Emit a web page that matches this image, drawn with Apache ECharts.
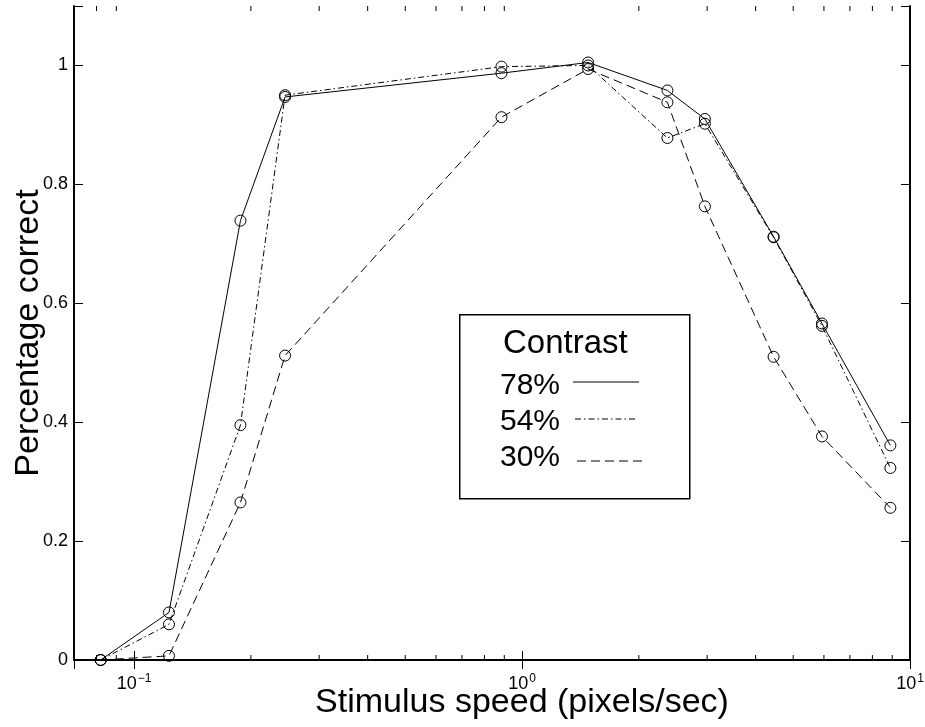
<!DOCTYPE html>
<html>
<head>
<meta charset="utf-8">
<script src="https://cdn.jsdelivr.net/npm/echarts@6/dist/echarts.min.js"></script>
<style>
html,body{margin:0;padding:0;background:#fff;}
#chart{width:925px;height:727px;}
</style>
</head>
<body>
<div id="chart"></div>
<script>
// ---- data ----
const speeds = [0.082, 0.123, 0.188, 0.245, 0.885, 1.48, 2.37, 2.96, 4.45, 5.93, 8.9];
const contrast78 = [0, 0.080, 0.739, 0.947, 0.987, 1.005, 0.958, 0.910, 0.712, 0.566, 0.361];
const contrast54 = [0, 0.060, 0.395, 0.950, 0.998, 1.000, 0.878, 0.902, 0.711, 0.562, 0.323];
const contrast30 = [0, 0.007, 0.265, 0.512, 0.913, 0.994, 0.938, 0.763, 0.510, 0.376, 0.256];
const seriesNames = ['78%', '54%', '30%'];
const minorTickValues = [0.08, 0.09, 0.2, 0.3, 0.4, 0.5, 0.6, 0.7, 0.8, 0.9, 2, 3, 4, 5, 6, 7, 8, 9];
const yTicks = [0, 0.2, 0.4, 0.6, 0.8, 1];
const xTitle = 'Stimulus speed (pixels/sec)';
const yTitle = 'Percentage correct';
const legendTitle = 'Contrast';

// ---- styles ----
const FONT = '"Liberation Sans", Arial, Helvetica, sans-serif';
const dashes = [null, [6, 3, 1.5, 3], [9, 5]];
const allSeries = [contrast78, contrast54, contrast30];

function pairs(vals) { return speeds.map((s, i) => [s, vals[i]]); }

function supLabel(v) {
  const e = Math.log10(v);
  if (Math.abs(e - Math.round(e)) > 1e-6) return '';
  const n = Math.round(e);
  return '{b|10}{s|' + (n < 0 ? '\u2212' + (-n) : n) + '}';
}

const chart = echarts.init(document.getElementById('chart'), null, {renderer: 'canvas'});

const lineSeries = allSeries.map((vals, i) => ({
  name: seriesNames[i],
  type: 'line',
  data: pairs(vals),
  symbol: 'circle',
  symbolSize: 11,
  showSymbol: true,
  lineStyle: {color: '#000', width: 1, type: dashes[i] || 'solid'},
  itemStyle: {color: 'rgba(0,0,0,0)', borderColor: '#000', borderWidth: 1},
  emphasis: {disabled: true},
  z: 3
}));

const minorTickSeries = {
  type: 'custom',
  data: minorTickValues.map(v => [v, 0]),
  encode: {x: 0, y: 1},
  silent: true,
  clip: false,
  renderItem: function (params, api) {
    const x = api.coord([api.value(0), 0])[0];
    const cs = params.coordSys;
    const yb = cs.y + cs.height, yt = cs.y;
    return {
      type: 'group',
      children: [
        {type: 'line', shape: {x1: x, y1: yb, x2: x, y2: yb - 5}, style: {stroke: '#000', lineWidth: 1}},
        {type: 'line', shape: {x1: x, y1: yt, x2: x, y2: yt + 5}, style: {stroke: '#000', lineWidth: 1}}
      ]
    };
  },
  z: 2
};

const axisLineStyle = {color: '#000', width: 2};

const option = {
  animation: false,
  backgroundColor: '#fff',
  grid: {left: 74, right: 15, top: 6, bottom: 67, show: false, containLabel: false, outerBoundsMode: 'none'},
  xAxis: [{
    type: 'log', logBase: 10, min: 0.07, max: 10, position: 'bottom',
    axisLine: {show: true, lineStyle: axisLineStyle},
    axisTick: {show: true, inside: true, length: 9, lineStyle: {color: '#000', width: 1}},
    splitLine: {show: false},
    axisLabel: {
      show: true, margin: 13, showMinLabel: false,
      formatter: supLabel,
      rich: {
        b: {fontFamily: FONT, fontSize: 18, color: '#000', verticalAlign: 'bottom', lineHeight: 20},
        s: {fontFamily: FONT, fontSize: 12, color: '#000', verticalAlign: 'top', lineHeight: 20, padding: [0, 0, 11, 1]}
      }
    },
    name: xTitle, nameLocation: 'middle', nameGap: 26, nameMoveOverlap: false,
    nameTextStyle: {fontFamily: FONT, fontSize: 34, color: '#000', padding: [0, 0, 0, 60]}
  }, {
    type: 'log', logBase: 10, min: 0.07, max: 10, position: 'top',
    axisLine: {show: true, lineStyle: axisLineStyle},
    axisTick: {show: true, inside: true, length: 9, lineStyle: {color: '#000', width: 1}},
    axisLabel: {show: false}, splitLine: {show: false}
  }],
  yAxis: [{
    type: 'value', min: 0, max: 1.1, interval: 0.2, position: 'left',
    axisLine: {show: true, lineStyle: axisLineStyle},
    axisTick: {show: true, inside: true, length: 9, lineStyle: {color: '#000', width: 1}},
    splitLine: {show: false},
    axisLabel: {
      show: true, margin: 6, fontFamily: FONT, fontSize: 18, color: '#000',
      formatter: v => (yTicks.some(t => Math.abs(t - v) < 1e-9) ? String(+v.toFixed(1)) : '')
    },
    name: yTitle, nameLocation: 'middle', nameGap: 28, nameMoveOverlap: false,
    nameTextStyle: {fontFamily: FONT, fontSize: 34, color: '#000'}
  }, {
    type: 'value', min: 0, max: 1.1, interval: 0.2, position: 'right',
    axisLine: {show: true, lineStyle: axisLineStyle},
    axisTick: {show: true, inside: true, length: 9, lineStyle: {color: '#000', width: 1}},
    axisLabel: {show: false}, splitLine: {show: false}
  }],
  series: lineSeries.concat([minorTickSeries]),
  graphic: [
    {type: 'rect', left: 459, top: 314, shape: {width: 230, height: 184},
     style: {fill: '#fff', stroke: '#000', lineWidth: 1.5}, z: 10},
    {type: 'text', x: 503, y: 344, style: {text: legendTitle, font: '33px ' + FONT, fill: '#000', verticalAlign: 'middle'}, z: 11},
    {type: 'text', x: 500, y: 386, style: {text: seriesNames[0], font: '30px ' + FONT, fill: '#000', verticalAlign: 'middle'}, z: 11},
    {type: 'text', x: 500, y: 422, style: {text: seriesNames[1], font: '30px ' + FONT, fill: '#000', verticalAlign: 'middle'}, z: 11},
    {type: 'text', x: 500, y: 458, style: {text: seriesNames[2], font: '30px ' + FONT, fill: '#000', verticalAlign: 'middle'}, z: 11},
    {type: 'line', shape: {x1: 573, y1: 382, x2: 639, y2: 382}, style: {stroke: '#000', lineWidth: 1}, z: 11},
    {type: 'line', shape: {x1: 575, y1: 419, x2: 637, y2: 419}, style: {stroke: '#000', lineWidth: 1, lineDash: dashes[1]}, z: 11},
    {type: 'line', shape: {x1: 577, y1: 461, x2: 643, y2: 461}, style: {stroke: '#000', lineWidth: 1, lineDash: dashes[2]}, z: 11}
  ]
};

chart.setOption(option);
</script>
</body>
</html>
